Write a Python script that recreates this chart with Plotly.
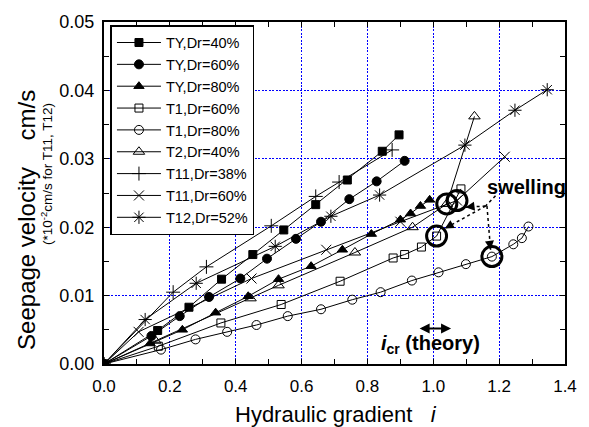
import plotly.graph_objects as go

# Hydraulic gradient (i) and seepage velocity (cm/s) for each test
ty40_i = [0, 0.163, 0.258, 0.357, 0.452, 0.546, 0.643, 0.739, 0.845, 0.896]
ty40_v = [0, 0.0049, 0.0083, 0.0124, 0.0160, 0.0196, 0.0233, 0.0269, 0.0311, 0.0335]

ty60_i = [0, 0.144, 0.230, 0.319, 0.414, 0.495, 0.583, 0.659, 0.745, 0.828, 0.913]
ty60_v = [0, 0.0041, 0.0070, 0.0098, 0.0125, 0.0154, 0.0183, 0.0208, 0.0241, 0.0267, 0.0297]

ty80_i = [0, 0.140, 0.238, 0.339, 0.438, 0.530, 0.629, 0.724, 0.812, 0.900, 0.931, 0.961, 0.989]
ty80_v = [0, 0.0030, 0.0050, 0.0075, 0.0099, 0.0124, 0.0143, 0.0167, 0.0190, 0.0211, 0.0220, 0.0231, 0.0240]

t1_60_i = [0, 0.165, 0.355, 0.538, 0.717, 0.878, 0.913, 0.964, 1.010, 1.084]
t1_60_v = [0, 0.0026, 0.0060, 0.0087, 0.0121, 0.0155, 0.0160, 0.0171, 0.0187, 0.0256]

t1_80_i = [0, 0.173, 0.278, 0.374, 0.463, 0.558, 0.659, 0.754, 0.840, 0.935, 1.016, 1.099, 1.178, 1.243, 1.269, 1.289]
t1_80_v = [0, 0.0021, 0.0036, 0.0047, 0.0057, 0.0070, 0.0080, 0.0094, 0.0105, 0.0122, 0.0134, 0.0146, 0.0157, 0.0175, 0.0184, 0.0201]

t2_40_i = [0, 0.156, 0.445, 0.530, 0.762, 0.937, 1.041, 1.125]
t2_40_v = [0, 0.0034, 0.0096, 0.0115, 0.0163, 0.0200, 0.0234, 0.0362]

t11_38_i = [0, 0.210, 0.311, 0.508, 0.643, 0.714, 0.875]
t11_38_v = [0, 0.0105, 0.0142, 0.0202, 0.0245, 0.0266, 0.0313]

t11_60_i = [0, 0.105, 0.448, 0.675, 0.900, 1.072, 1.217]
t11_60_v = [0, 0.0047, 0.0125, 0.0167, 0.0208, 0.0239, 0.0303]

t12_52_i = [0, 0.125, 0.280, 0.520, 0.689, 0.837, 1.096, 1.248, 1.346]
t12_52_v = [0, 0.0065, 0.0118, 0.0172, 0.0216, 0.0247, 0.0320, 0.0371, 0.0401]

# Points where swelling of the specimen was observed
swell_i = [1.041, 1.072, 1.010, 1.178]
swell_v = [0.0234, 0.0239, 0.0187, 0.0157]

series = [
    ("TY,Dr=40%", ty40_i, ty40_v, "square", 8),
    ("TY,Dr=60%", ty60_i, ty60_v, "circle", 9),
    ("TY,Dr=80%", ty80_i, ty80_v, "triangle-up", 9),
    ("T1,Dr=60%", t1_60_i, t1_60_v, "square-open", 8),
    ("T1,Dr=80%", t1_80_i, t1_80_v, "circle-open", 9),
    ("T2,Dr=40%", t2_40_i, t2_40_v, "triangle-up-open", 10),
    ("T11,Dr=38%", t11_38_i, t11_38_v, "cross-thin", 10),
    ("T11,Dr=60%", t11_60_i, t11_60_v, "x-thin", 10),
    ("T12,Dr=52%", t12_52_i, t12_52_v, "asterisk", 11),
]

FONT = "Arial, Liberation Sans, sans-serif"

fig = go.Figure()

# added in reverse so the first series sits on top; legend reversed back
for name, xs, ys, sym, size in reversed(series):
    fig.add_trace(go.Scatter(
        x=xs, y=ys, name=name, mode="lines+markers",
        line=dict(color="black", width=1),
        marker=dict(symbol=sym, size=size, color="black",
                    line=dict(color="black", width=1)),
    ))

fig.add_trace(go.Scatter(
    x=swell_i, y=swell_v, mode="markers", showlegend=False,
    marker=dict(symbol="circle-open", size=20, color="black",
                line=dict(color="black", width=3)),
))

# dotted leader lines from the "swelling" label
jx, jy = 1.159, 0.0231
shapes = [
    dict(type="line", x0=1.189, y0=0.0246, x1=jx, y1=jy),
    dict(type="line", x0=jx, y0=jy, x1=1.098, y1=0.0229),
    dict(type="line", x0=jx, y0=jy, x1=1.035, y1=0.0198),
    dict(type="line", x0=jx + 0.004, y0=jy, x1=1.174, y1=0.0167),
]
for s in shapes:
    s.update(xref="x", yref="y", line=dict(color="black", width=1.5, dash="dot"))

annotations = []
# arrow heads at the ends of the leader lines
for (x, y, ax, ay) in [(1.098, 0.0229, 8, -1), (1.035, 0.0198, 7, -4), (1.174, 0.0167, -1, -8)]:
    annotations.append(dict(x=x, y=y, ax=ax, ay=ay, xref="x", yref="y", text="",
                            showarrow=True, arrowhead=2, arrowsize=1.2,
                            arrowwidth=1.5, arrowcolor="black"))

annotations += [
    dict(x=1.282, y=0.0259, xref="x", yref="y", text="<b>swelling</b>",
         showarrow=False, font=dict(size=20, family=FONT, color="black")),
    dict(x=0.992, y=0.0029, xref="x", yref="y",
         text="<b><i>i</i><sub>cr</sub> (theory)</b>",
         showarrow=False, font=dict(size=20, family=FONT, color="black")),
    dict(x=1.054, y=0.0052, ax=0.954, ay=0.0052, xref="x", yref="y",
         axref="x", ayref="y", text="", showarrow=True, arrowside="end+start",
         arrowhead=2, arrowsize=1, arrowwidth=2, arrowcolor="black"),
    dict(x=-0.168, y=0.42, xref="paper", yref="paper", textangle=-90,
         xanchor="center", yanchor="middle",
         text="Seepage velocity    cm/s", showarrow=False,
         font=dict(size=24, family=FONT, color="black")),
    dict(x=-0.124, y=0.555, xref="paper", yref="paper", textangle=-90,
         xanchor="center", yanchor="middle",
         text="(*10<sup>-2</sup>cm/s for T11, T12)", showarrow=False,
         font=dict(size=13.5, family=FONT, color="black")),
    dict(x=0.504, y=-0.148, xref="paper", yref="paper",
         xanchor="center", yanchor="middle",
         text="Hydraulic gradient   <i>i</i>", showarrow=False,
         font=dict(size=22, family=FONT, color="black")),
]

axis_common = dict(
    showline=True, linecolor="black", linewidth=2, mirror="allticks",
    ticks="inside", ticklen=5, tickwidth=1.2, tickcolor="black",
    showgrid=True, gridcolor="rgb(0,0,255)", gridwidth=1, griddash="2px,1.5px",
    zeroline=False,
)

fig.update_layout(
    width=589, height=427,
    margin=dict(l=104, r=22, t=20, b=63),
    plot_bgcolor="white", paper_bgcolor="white",
    font=dict(family=FONT, color="black"),
    shapes=shapes, annotations=annotations,
    legend=dict(x=0.014, y=0.991, xanchor="left", yanchor="top",
                traceorder="reversed", bgcolor="white",
                bordercolor="black", borderwidth=1.5,
                font=dict(size=14.5, family=FONT, color="black"),
                itemwidth=44, tracegroupgap=0),
    xaxis=dict(range=[0, 1.4], dtick=0.2, tickformat=".1f",
               minor=dict(dtick=0.1, ticks="inside", ticklen=5, tickcolor="black", showgrid=False),
               ticklabelstandoff=6, tickfont=dict(size=17, family=FONT, color="black"),
               **axis_common),
    yaxis=dict(range=[0, 0.05], dtick=0.01, tickformat=".2f",
               minor=dict(dtick=0.005, ticks="inside", ticklen=5, tickcolor="black", showgrid=False),
               ticklabelstandoff=4, tickfont=dict(size=18, family=FONT, color="black"),
               **axis_common),
)

fig.write_html("out.html")
